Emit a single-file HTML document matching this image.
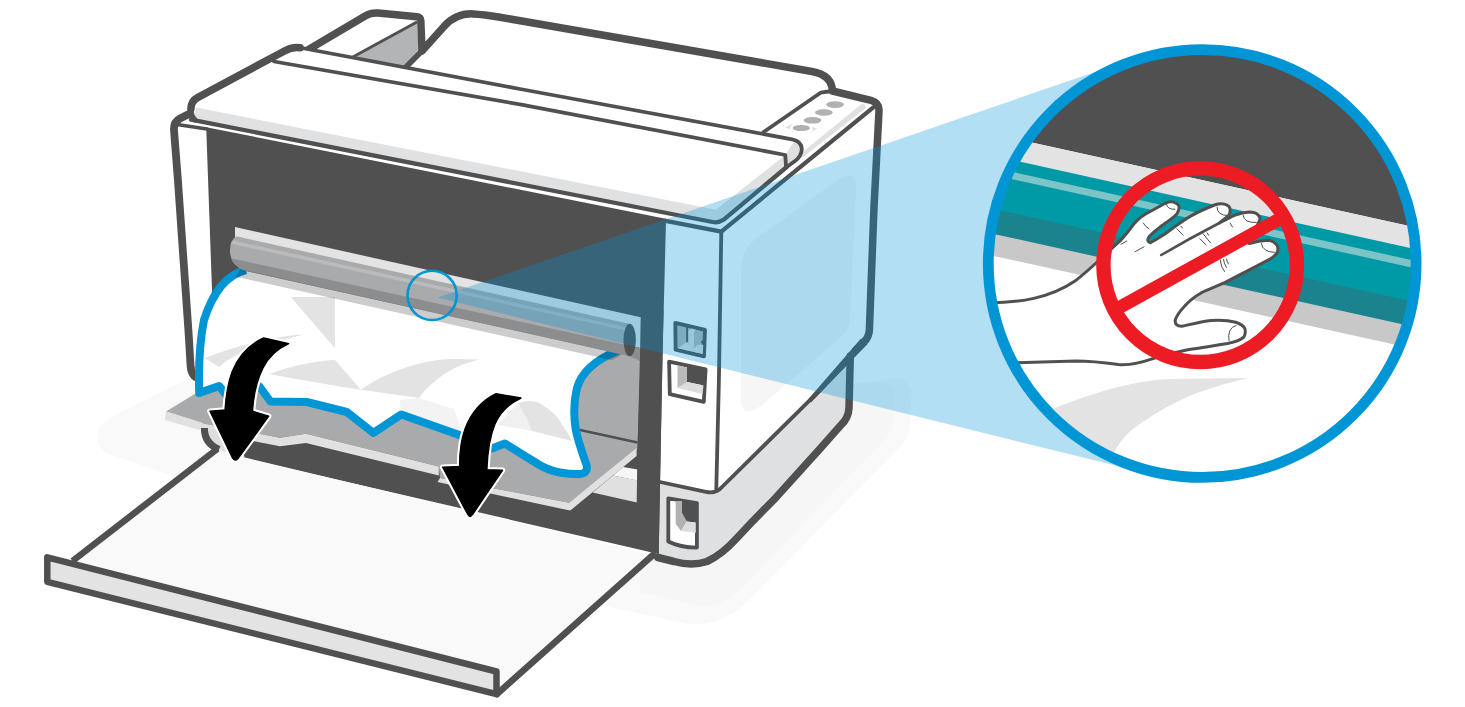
<!DOCTYPE html>
<html><head><meta charset="utf-8"><title>Printer jam</title>
<style>
html,body{margin:0;padding:0;background:#fff;}
body{width:1465px;height:707px;overflow:hidden;font-family:"Liberation Sans",sans-serif;}
svg{display:block;}
</style></head><body>
<svg width="1465" height="707" viewBox="0 0 1465 707">
<defs>
<clipPath id="bigclip"><circle cx="1202.2" cy="263.5" r="214"/></clipPath>
<clipPath id="redclip"><circle cx="1200.2" cy="265.2" r="97"/></clipPath>
</defs>
<rect width="1465" height="707" fill="#fff"/>
<g id="floor" fill="#f9f9f9">
<path d="M97,436 Q97,425 110,418 L190,378 L700,400 L893,379 Q911,377 911.5,396 L910,425 Q909,438 900,447 L752,597 Q722,628 688,624 L600,605 L300,520 L185,480 L112,455 Q97,450 97,436Z"/>
<path d="M840,385 L878,383 Q894,382 894,398 L893,420 Q892,432 884,441 L742,588 Q722,608 698,606 L640,592 L640,480Z" fill="#f6f6f6"/>
</g>
<g id="trays" stroke="#505050" stroke-linejoin="round" stroke-linecap="round">
<path d="M300,56 L366,15.5 Q371,12.5 378,13 L417,16.8 Q420.5,17.2 420.8,20.5 L422,51 L404,68Z" fill="#fff" stroke="none"/>
<path d="M354,57.5 L417,23 L418.5,51 L405,67Z" fill="#b3b4b5" stroke="none"/>
<path d="M351,58 L416,22.5" fill="none" stroke-width="3"/>
<path d="M422,51 L444,26.5 C452,17.5 462,13.5 473,13.9 C480,14.2 490,15.5 500,17.2 L812,71.5 C826,74 832,81 832.5,92 L832,120 L400,80Z" fill="#fff" stroke="none"/>
<path d="M422,51 L406,67" fill="none" stroke-width="5.5"/>
<path d="M306,51 L366,15.5 Q371,12.5 378,13 L417,16.8 Q420.5,17.2 420.8,20.5 L422,51 L444,26.5 C452,17.5 462,13.5 473,13.9 C480,14.2 490,15.5 500,17.2 L812,71.5 C826,74 832,81 832.5,91" fill="none" stroke-width="7.5"/>
</g>
<g id="bodyfill">
<path d="M193,378 L174,128 Q173.5,120.5 180,117.5 L190,112 L191,101 L284.5,51 Q292,46.8 300,47.8 L796.6,140 L820.6,92 L832.5,91 L871,100.3 Q879.5,102.5 879,111 L874,207 L869.4,330 Q869,337 864,342 L851,356 L849,408 Q848.5,418 841,425 L820,448.8 L775.7,497.8 L753.1,520.8 L736,539 Q722,554.5 707,561.5 Q692,566.5 674,561.5 L658,557.5 L217,449 Z" fill="#fff"/>
</g>
<path d="M660,482 L716,494 L722,487 L820,390.2 L850.3,357 L849,408 Q848.5,418 841,425 L820,448.8 L775.7,497.8 L753.1,520.8 L736,539 Q722,554.5 707,561.5 Q692,566.5 674,561.5 L658,557.5Z" fill="#dfe0e1"/>
<path d="M741,270 Q741,250 757,238 L838,180 Q857,168 856,190 L850,318 Q849.5,330 840,338 L762,405 Q741,421 741,398Z" fill="#f6f6f6"/>
<path d="M199,378.5 Q191.5,377 190.6,366 L188.4,330 L177.9,180 L174,130 Q173.5,122 180,118.5 L190,113.5" fill="none" stroke="#505050" stroke-width="7.8" stroke-linecap="round" stroke-linejoin="round"/>
<path d="M206.2,127.2 L665.7,218.7 L666,220.5 L662.5,357 L658.7,554 L280,466.4 L245,458 L220,449 Q203,441 201,430 L212,290 Z" fill="#505050"/>
<path d="M166,411.5 L198,392 L240,300 L600,352 L640.7,356 L637.5,449 L569,502.8 L440,478 L438.8,466.4 L306,433.8 L280,437.7 L205,423.7 Z" fill="#a9aaab"/>
<path d="M166,411.5 L205,423.7 L280,437.7 L306,433.8 L438.8,466.4 L438.8,475.5 L306,443 L280,446.3 L205,431.5 L165,420Z" fill="#e0e0e0"/>
<path d="M440,478 L569,502.8 L636.6,448 L636.6,456 L570.2,510.6 L437.5,482Z" fill="#e0e0e0"/>
<path d="M623.2,467 L637.9,469.6 L637.9,480.7 L613,475.5Z" fill="#f6f6f6"/>
<path d="M613,475.5 L637.9,480.6 L637.9,502.7 L592.6,492.5Z" fill="#e0e0e0"/>
<path d="M580,430 L637.5,442.5" stroke="#505050" stroke-width="2.5" fill="none"/>
<path d="M246,270 C225,275 212,295 204,320 C199,345 198.5,370 199.2,392.9 L219.2,386 L226.9,396 L259.1,386 L270.5,401.5 L306.7,402 L346.7,412 L373.4,432.8 L401.3,414.4 L457.2,434.3 L492.6,448.2 L504.8,443.5 L537.1,463.5 Q548,470.5 560,472.5 Q572,474.5 580,474 Q588.5,473 586.5,465 C582,452 577.5,440 575.5,428 C573.5,414 574,400 577,388 C581,374 592,361 618.5,350.5 L600,345 L300,280Z" fill="#fff"/>
<g fill="#e3e3e3">
<path d="M290.7,297 L334.9,297 L334.9,347.9Z"/>
<path d="M204.7,358 C235,346 270,337 303.2,334.3 C285,340 265,345 250,350 C235,355 225,361 219.4,367Z"/>
<path d="M269.2,374 C290,366 315,361 334.9,359.7 L360.9,389.8 C330,385 300,380 269.2,374Z"/>
<path d="M360.9,389.8 C375,380 388,374 400,369.6 C420,362 440,359 452,359 L479.2,359.4 C460,364 445,372 434,382 C427,388 422,393 419.2,398Z"/>
<path d="M517.7,403.6 C525,400 535,400 540.4,403.6 C548,409 552,412 556.2,416 C562,424 568,433 572,441 L531.3,430.7 C529,424 527,419 523.4,413.8 C522,410 520,406 517.7,403.6Z"/>
<path d="M497.4,425 L517.7,403.6 C522,410 527,419 531.3,430.7Z" fill="#f0f0f0"/>
<path d="M400,400 L419.2,398 L454,409 L461,430 L457,434 L401,414Z" fill="#f3f3f3"/>
</g>
<path d="M246,270 C225,275 212,295 204,320 C199,345 198.5,370 199.2,392.9 L219.2,386 L226.9,396 L259.1,386 L270.5,401.5 L306.7,402 L346.7,412 L373.4,432.8 L401.3,414.4 L457.2,434.3 L492.6,448.2 L504.8,443.5 L537.1,463.5 Q548,470.5 560,472.5 Q572,474.5 580,474 Q588.5,473 586.5,465 C582,452 577.5,440 575.5,428 C573.5,414 574,400 577,388 C581,374 592,361 618.5,350.5" fill="none" stroke="#0096d6" stroke-width="8" stroke-linejoin="round"/>
<path d="M235,227.1 L640.7,317.2 L640.7,348.1 L235,258Z" fill="#e3e3e3"/>
<path d="M236.5,236.3 L630,324.0 L630,356.2 L245,270.7 Q231,266 230,252 Q229.5,240 236.5,236.3Z" fill="#a9aaab"/>
<path d="M233,240.4 L630,328.1 L630,331.5 L231.5,243.8Z" fill="#babbbc"/>
<path d="M231,258.2 L640.7,348.3 L640.7,361.6 L630,356.2 L245,270.7 Q234,266 231,258.2Z" fill="#8c8d8f"/>
<path d="M240,269.1 L622,354.4 L612,360.2 L236,276.7Z" fill="#000" fill-opacity="0.2"/>
<ellipse cx="629.7" cy="340" rx="6.2" ry="16.2" fill="#505050"/>
<path d="M641,317 L663.5,310 L661.4,410 L658.7,554 L636,548 L637.5,449Z" fill="#505050"/>
<g stroke="#505050" stroke-width="3.8" stroke-linejoin="round">
<path d="M675.3,322.8 L705,329.9 L704,356.4 L675.6,349.7Z" fill="#b4b5b7"/>
<path d="M669.1,361.6 L705.6,369.4 L703.8,401.9 L669.8,394.1Z" fill="#fff"/>
<path d="M668.3,498.3 L696.9,503 L696.9,547.6 Q680,547.5 668.3,541.5Z" fill="#fff"/>
</g>
<path d="M677.7,348.2 L686.2,342.6 L688.3,343.3 L694,348 L697.5,344.7 L703.2,345 L702.8,353.9Z" fill="#dcdddf"/>
<path d="M688.3,330.2 L691.5,328.4 L695.8,329.5 L694,331.5 L694,348 L688.3,343.3Z" fill="#dcdddf"/>
<path d="M686.2,326.3 L688.1,326.7 L688.1,342.3 L686.2,341.5Z" fill="#505050"/>
<path d="M700.7,342.2 L703.4,339.6 L703.4,344.9Z" fill="#505050"/>
<path d="M677.5,365.5 L687,367.5 L687,383 L677.5,388Z" fill="#b9babb"/>
<path d="M687,365.5 L704.5,369 L704,385.5 L687,382Z" fill="#505050"/>
<path d="M687,382 L703.5,385.5 L702.5,394 L677.5,388Z" fill="#dcdddf"/>
<path d="M675.7,500.9 L682,501 L682,513.1 L686.8,521.6 L681,531.1 L675.7,523.7Z" fill="#b0b1b3"/>
<path d="M682,500.5 L696.9,503.2 L696.9,522.8 L686.8,521.6 L682,513.1Z" fill="#505050"/>
<path d="M686.8,521.6 L695.8,522.6 L695.8,532.7 L681,531.1Z" fill="#dcdddf"/>
<path d="M217.5,449 L245,457.5 L653,555 L497,694 L497,672 L72,561Z" fill="#f9f9f9"/>
<path d="M203,427 L236,436 L245,458 L217,449 L206,440Z" fill="#dcdddf"/>
<path d="M204.5,428 Q204,443 219,449.5" fill="none" stroke="#505050" stroke-width="7"/>
<path d="M72.5,561 L217.5,448.7" stroke="#505050" stroke-width="6.5" fill="none"/>
<path d="M497,694 L653,555" stroke="#505050" stroke-width="6.5" fill="none" stroke-linecap="round"/>
<path d="M47.3,557.3 L496.5,671.5 L496.5,694.2 L47.3,581.8Z" fill="#e3e3e3" stroke="#505050" stroke-width="6.5" stroke-linejoin="round"/>
<path d="M196,107.5 L716,209.7 L785.3,155 L786.7,166 L719,222 L193,120Z" fill="#e0e1e2"/>
<path d="M785.3,155 L795,140 Q801.5,142 801.8,149 Q801.5,157 794,161.8 L786.5,167Z" fill="#e0e0e0"/>
<path d="M861,104.5 Q864,103.5 865.5,105.5 Q866.5,107.5 864,109.5 L802.5,157.5 L800,154.2Z" fill="#e0e0e0"/>
<g fill="none" stroke="#505050" stroke-linecap="round" stroke-linejoin="round">
<path d="M190.9,109 Q190.8,101 198,97.3 L284.5,51 Q292,46.8 300,47.8" stroke-width="7.5"/>
<path d="M191,107 Q190.6,116.5 195,119.8" stroke-width="5.2"/>
<path d="M299,47.5 L520,89 L792,139.3 Q801.5,141 801.8,149 Q801.5,157 794,161.8 L786.7,167" stroke-width="3.8"/>
<path d="M274,61.5 L520,104.4 L785.3,155 L786,166.3" stroke-width="3.8"/>
<path d="M191,119.6 L712.5,222 Q718.5,223.2 723.5,219.8 L786.7,167" stroke-width="4.3"/>
<path d="M665.7,220.8 L721.3,231.6 L873,107.6" stroke-width="4.3"/>
<path d="M177,124.5 L207,129" stroke-width="3.6"/>
<path d="M721.3,231.6 L718.9,380 L716.3,489" stroke-width="3.8"/>
<path d="M660,482 L706,491.8 Q716,494 722,487 L820,390.2 L850,358 L863,343" stroke-width="3.8"/>
<path d="M763.3,132.3 L820.6,92.7 L832,91" stroke-width="3.8"/>
<path d="M832.5,91 L871,100.3 Q879.5,102.5 879,111 L874,207 L870.5,300 L869.4,330 Q869,337 864,342 L856,350" stroke-width="7.5"/>
<path d="M850.3,356 L849,408 Q848.5,418 841,425 L820,448.8 L775.7,497.8 L753.1,520.8 L736,539 Q722,554.5 707,561.5 Q692,566.5 674,561.5 L658,557.5" stroke-width="7.5"/>
</g>
<path d="M867.5,344 L861,338.5 L808,399.5 L811,402.5Z" fill="#505050"/>
<g fill="#b0b1b3">
<ellipse cx="835.1" cy="104.6" rx="8.9" ry="3.3"/>
<ellipse cx="823.9" cy="112.5" rx="8.9" ry="3.3"/>
<ellipse cx="812.5" cy="120.3" rx="8.9" ry="3.3"/>
<ellipse cx="801.3" cy="128" rx="8.7" ry="3.1"/>
</g>
<path d="M785.4,127.6 L793.4,123.1 L790.6,126 L790.3,129.2Z M812.1,127.1 L817.2,128.4 L810.2,132.6 L813.1,129.7Z" fill="#dedede"/>
<g fill="#fff" stroke="#fff" stroke-width="5.5" stroke-linejoin="round">
<path d="M263.7,338 L288.7,343.7 C275,350 268,358 263,368 C257,380 253.5,395 252.5,411.2 L268.7,416.2 L238,458.5 Q235,462 232.5,458 L210,411.2 L225,410 C226,395 228,383 232,372 C238,357 248,345 263.7,338Z"/>
<path d="M496,393.7 L521,398 C508,404 499.5,414 495,424 C490,436 487.5,452 486.9,469.8 L502.5,470.3 L472.5,514.5 Q470,518.5 467.8,514.5 L442.7,467.2 L459.6,466.4 C459.5,452 461,440 465,429 C471,413 481,401 496,393.7Z"/>
</g>
<g fill="#000" stroke="#000" stroke-width="1.4" stroke-linejoin="round">
<path d="M263.7,338 L288.7,343.7 C275,350 268,358 263,368 C257,380 253.5,395 252.5,411.2 L268.7,416.2 L238,458.5 Q235,462 232.5,458 L210,411.2 L225,410 C226,395 228,383 232,372 C238,357 248,345 263.7,338Z"/>
<path d="M496,393.7 L521,398 C508,404 499.5,414 495,424 C490,436 487.5,452 486.9,469.8 L502.5,470.3 L472.5,514.5 Q470,518.5 467.8,514.5 L442.7,467.2 L459.6,466.4 C459.5,452 461,440 465,429 C471,413 481,401 496,393.7Z"/>
</g>
<circle cx="432.1" cy="295.4" r="24.6" fill="none" stroke="#0096d6" stroke-width="2.6"/>
<path d="M437.5,297.5 L1132.7,59.1 L1203,264 L1150.8,474.3Z" fill="#0096d6" fill-opacity="0.3"/>
<circle cx="1202.2" cy="263.5" r="214" fill="#fff"/>
<g clip-path="url(#bigclip)">
<path d="M980,40 L1430,40 L1430,230.5 L980,131.1Z" fill="#505050"/>
<path d="M980,131.1 L1430,230.5 L1430,253.3 L980,153.9Z" fill="#e3e3e3"/>
<path d="M980,152.9 L1430,252.3 L1430,306.4 L980,206.9Z" fill="#009aa7"/>
<path d="M980,164.7 L1430,264.1 L1430,271.5 L980,172.1Z" fill="#7cc4c8"/>
<path d="M980,205.9 L1430,305.4 L1430,331.4 L980,231.9Z" fill="#1b838d"/>
<path d="M980,230.9 L1430,330.4 L1430,352.4 L980,252.9Z" fill="#c8c8c8"/>
<path d="M1030,418 C1090,393 1130,381 1168,379 L1248,378 C1220,385 1200,391 1183,399 C1160,410 1145,420 1133,429 C1122,438 1112,452 1105,472Z" fill="#e3e3e3"/>
<path d="M985,303 C1020,303 1050,298 1075,281 C1090,270 1105,254 1121,240 C1128,232 1131,228 1134,223.8 C1138,219 1141,216.5 1145.6,214 L1165.3,203.3 Q1170,201 1173.5,202.2 Q1179,204 1179.2,207.4 Q1179,211 1176.8,214 C1172,219 1167,222 1162,225.5 C1157,229.5 1152,233 1148.9,237 Q1146,241.5 1150.5,242.7 C1156,240 1160,237 1165.3,233.7 C1174,227 1182,221 1191.5,215.6 C1199,211.5 1207,208 1214.5,205 Q1220,203 1224.4,204.1 Q1229.5,205.5 1230.1,209 Q1230.5,212.5 1228.5,215.6 L1219.4,223 C1225,220 1230,217 1235.8,214.8 Q1243,212.5 1249,212 Q1255,212 1258,214.8 Q1261,217.5 1259.6,220.5 L1249,243.5 Q1259,240.5 1268.6,240.2 Q1274,241 1276.9,245.1 Q1279,249 1276.9,253.3 Q1274,257 1268.6,259.9 L1227.6,281.2 C1218,286 1209,289 1201.4,292.7 C1194,297 1189,301 1185,305.8 C1180,311 1176.5,316 1175.1,320.5 Q1175,326 1181.7,326.3 C1192,324 1202,321.5 1211.2,320.5 C1220,320 1229,320.5 1235.8,322.2 Q1243,324.5 1244.9,328.7 Q1246,333 1244,336.9 Q1240,341 1227.6,343.5 C1213,346 1199,348 1186.6,350 C1175,352.5 1164,355.5 1153.8,358.3 C1140,363 1130,365.5 1118.5,364.5 C1100,362 1085,361 1076,361 L1017,362.7 L985,363Z" fill="#fff" stroke="#505050" stroke-width="3" stroke-linejoin="round"/>
<path d="M1219.4,223 C1200,233 1180,244 1161.2,255" fill="none" stroke="#505050" stroke-width="2.6" stroke-linecap="round"/>
<g fill="none" stroke="#505050" stroke-width="1" stroke-linecap="round">
<path d="M1166.5,204.5 Q1168,210 1175,209.2"/>
<path d="M1217,207 Q1217,215.5 1228,215.6"/>
<path d="M1243.2,215.5 Q1244,223 1256.3,222.5"/>
<path d="M1261.3,243.5 Q1263,252.5 1275,252.3"/>
<path d="M1236,325.5 Q1227,328 1229,340.5"/>
<path d="M1143.2,223 Q1145,226.5 1148.9,228.7"/>
<path d="M1121,244.3 L1126.8,241"/>
<path d="M1135,251.7 L1144,246.8"/>
<path d="M1176.8,228.7 L1183.3,235.3"/>
<path d="M1180.9,226.3 L1182.5,228"/>
<path d="M1199.8,238.6 L1206.3,245.1"/>
<path d="M1203,233.7 L1210.4,242.7"/>
<path d="M1207.1,232.8 L1208.7,235.3"/>
<path d="M1230.1,223 L1232.6,227.1"/>
<path d="M1220.3,260 Q1220.5,267 1224.4,271.5"/>
<path d="M1223.5,259.5 Q1224,264 1226.5,267.5"/>
<path d="M1226.5,259 Q1227,262 1228.5,264"/>
</g>
</g>
<g stroke="#ed1c24" fill="none">
<path d="M1284.2,216.4 L1114.8,310" stroke-width="13"/>
<circle cx="1200.2" cy="265.2" r="96.8" stroke-width="14.4"/>
</g>
<circle cx="1202.2" cy="263.5" r="213.9" fill="none" stroke="#0096d6" stroke-width="10.8"/>
</svg>
</body></html>
